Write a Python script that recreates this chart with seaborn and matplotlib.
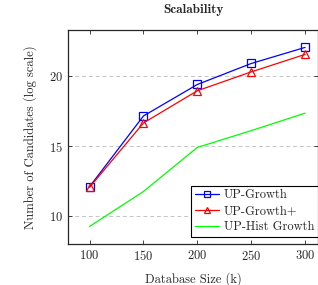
import pandas as pd
import matplotlib
matplotlib.use("Agg")
import matplotlib.pyplot as plt
import seaborn as sns

# Data
db_sizes = [100, 150, 200, 250, 300]
up_growth = [12.1, 17.15, 19.4, 20.9, 22.05]
up_growth_plus = [12.05, 16.65, 18.95, 20.3, 21.55]
up_hist_growth = [9.25, 11.75, 14.9, 16.1, 17.35]

series_names = ["UP-Growth", "UP-Growth+", "UP-Hist Growth"]


def build_frame():
    rows = []
    for name, values in zip(series_names, [up_growth, up_growth_plus, up_hist_growth]):
        for x, y in zip(db_sizes, values):
            rows.append({"size": x, "cands": y, "algo": name})
    return pd.DataFrame(rows)


def plot_data(df):
    sns.set_style("ticks")
    plt.rcParams["font.family"] = "serif"
    plt.rcParams["font.serif"] = ["cmr10", "DejaVu Serif"]
    plt.rcParams["axes.formatter.use_mathtext"] = True
    plt.rcParams["mathtext.fontset"] = "cm"

    fig = plt.figure(figsize=(3.18, 2.85), dpi=100)
    ax = fig.add_axes([0.214, 0.144, 0.786, 0.751])

    palette = {"UP-Growth": "#0000ff", "UP-Growth+": "#ff0000", "UP-Hist Growth": "#00ff00"}
    markers = {"UP-Growth": "s", "UP-Growth+": "^", "UP-Hist Growth": ""}
    for name in series_names:
        sub = df[df["algo"] == name]
        sns.lineplot(data=sub, x="size", y="cands", ax=ax, color=palette[name],
                     marker=markers[name] if markers[name] else None,
                     markersize=5.5, markerfacecolor="none",
                     markeredgecolor=palette[name], markeredgewidth=0.9,
                     linewidth=0.9, label=name)

    ax.set_xlim(80, 312)
    ax.set_ylim(8.0, 23.3)
    ax.set_xticks(db_sizes)
    ax.set_yticks([10, 15, 20])
    ax.yaxis.grid(True, linestyle=(0, (4, 3)), color="#c4c4c4", linewidth=0.7)
    ax.tick_params(direction="in", top=True, right=True, labelsize=9, length=3, width=0.6)
    for sp in ax.spines.values():
        sp.set_linewidth(0.9)

    ax.set_title("Scalability", fontsize=9.5, family="cmb10", pad=12)
    ax.set_xlabel("Database Size (k)", fontsize=9, labelpad=7)
    ax.set_ylabel("Number of Candidates (log scale)", fontsize=9, labelpad=9)

    leg = ax.legend(loc="lower right", bbox_to_anchor=(1.0, 0.033), fontsize=9,
                    fancybox=False, framealpha=1, edgecolor="black",
                    borderaxespad=0.0, handlelength=1.9, markerscale=0.75,
                    borderpad=0.3, labelspacing=0.3, handletextpad=0.4)
    leg.get_frame().set_linewidth(0.8)

    fig.savefig("out.png", dpi=100)


def main():
    df = build_frame()
    plot_data(df)


if __name__ == "__main__":
    main()
